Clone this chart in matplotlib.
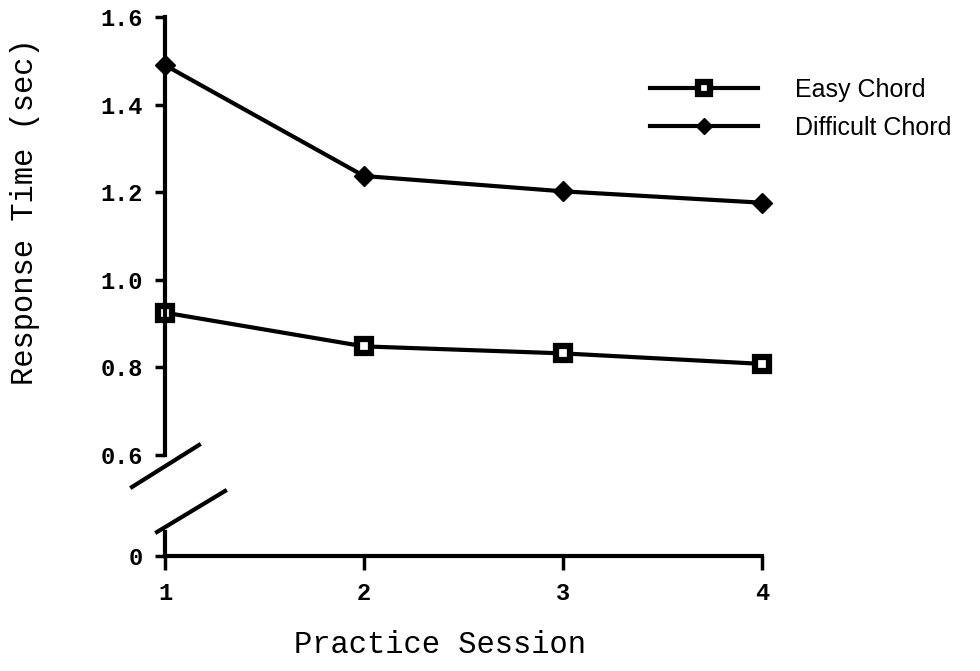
import matplotlib.pyplot as plt
from matplotlib.lines import Line2D

sessions = [1, 2, 3, 4]
easy = [0.925, 0.848, 0.832, 0.808]
difficult = [1.49, 1.237, 1.202, 1.176]
labels = ["Easy Chord", "Difficult Chord"]

W, H = 980, 671
fig = plt.figure(figsize=(W / 100, H / 100), dpi=100)


def px_box(x0, y0, x1, y1):
    # pixel box (top-left origin) -> figure fraction rect
    return [x0 / W, 1 - y1 / H, (x1 - x0) / W, (y1 - y0) / H]


ax = fig.add_axes(px_box(165, 17, 762, 455))
axb = fig.add_axes(px_box(165, 532, 762, 556))

mono = {"family": "Liberation Mono", "weight": "bold", "size": 17}

# top part (0.6 - 1.6)
ax.plot(sessions, easy, color="black", lw=3, marker="s", ms=10,
        mfc="white", mec="black", mew=4.5, clip_on=False, label=labels[0])
ax.plot(sessions, difficult, color="black", lw=3, marker="D", ms=10,
        mfc="black", mec="black", clip_on=False, label=labels[1])
ax.set_xlim(1, 4)
ax.set_ylim(0.6, 1.6)
ax.set_yticks([0.6, 0.8, 1.0, 1.2, 1.4, 1.6])
ax.set_yticklabels(["0.6", "0.8", "1.0", "1.2", "1.4", "1.6"], fontdict=mono)
ax.set_xticks([])
for s in ["top", "right", "bottom"]:
    ax.spines[s].set_visible(False)
ax.spines["left"].set_linewidth(3)
ax.tick_params(axis="y", direction="out", length=7, width=2.5, pad=9)

# bottom part (just the zero)
axb.set_xlim(1, 4)
axb.set_ylim(0, 0.05)
axb.set_yticks([0])
axb.set_yticklabels(["0"], fontdict=mono)
axb.set_xticks(sessions)
axb.set_xticklabels([str(s) for s in sessions], fontdict=mono)
for s in ["top", "right"]:
    axb.spines[s].set_visible(False)
axb.spines["left"].set_linewidth(3)
axb.spines["bottom"].set_linewidth(3)
axb.tick_params(axis="y", direction="out", length=7, width=2.5, pad=9)
axb.tick_params(axis="x", direction="out", length=10, width=2.5, pad=9)
axb.patch.set_alpha(0)

# break marks
for (x0, y0), (x1, y1) in [((132, 487), (199, 445)), ((157, 532), (225, 491))]:
    fig.add_artist(Line2D([x0 / W, x1 / W], [1 - y0 / H, 1 - y1 / H],
                          color="black", lw=3, transform=fig.transFigure))

# axis labels
label_font = {"family": "Liberation Mono", "size": 22}
axb.set_xlabel("Practice Session", fontdict=label_font)
axb.xaxis.set_label_coords(440 / W, 1 - 645 / H, transform=fig.transFigure)
axb.xaxis.label.set_va("center")
ax.set_ylabel("Response Time (sec)", fontdict=label_font)
ax.yaxis.set_label_coords(25 / W, 1 - 212 / H, transform=fig.transFigure)
ax.yaxis.label.set_va("center")

fig.legend(loc="upper left", bbox_to_anchor=(650 / W, 1 - 78 / H),
           frameon=False, prop={"family": "Liberation Sans", "size": 18},
           handlelength=4.3, handletextpad=1.5, labelspacing=0.55,
           borderpad=0, borderaxespad=0, markerscale=0.8)

plt.savefig("out.png", dpi=100)
